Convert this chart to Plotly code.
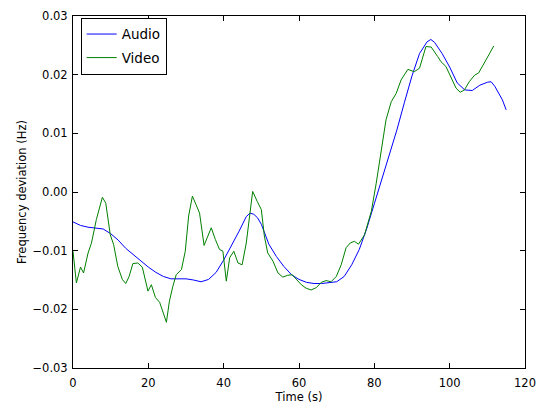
import plotly.graph_objects as go

# Audio frequency deviation (smooth track)
audio_t = [0, 2, 4, 6, 8, 10, 12, 14, 16, 18, 20, 22, 24, 26, 28, 30, 32, 34, 36, 38,
           40, 42, 44, 46, 47, 48, 49, 50, 52, 54, 56, 58, 60, 62, 64, 66, 68, 70, 72,
           74, 76, 78, 80, 82, 84, 86, 88, 90, 92, 94, 95, 96, 98, 100, 102, 104, 106,
           108, 110, 111, 112, 114, 115]
audio_f = [-0.0051, -0.0057, -0.0060, -0.0061, -0.0063, -0.0071, -0.0082, -0.0096,
           -0.0107, -0.0117, -0.0128, -0.0137, -0.0144, -0.0148, -0.0148, -0.0148,
           -0.0150, -0.0153, -0.0149, -0.0137, -0.0116, -0.0093, -0.0068, -0.0042,
           -0.0036, -0.0038, -0.0044, -0.0055, -0.0089, -0.0110, -0.0127, -0.0141,
           -0.0149, -0.0154, -0.0156, -0.0156, -0.0155, -0.0153, -0.0144, -0.0124,
           -0.0098, -0.0062, -0.0020, 0.0022, 0.0062, 0.0106, 0.0153, 0.0198, 0.0236,
           0.0256, 0.0260, 0.0255, 0.0236, 0.0213, 0.0186, 0.0174, 0.0173, 0.0182,
           0.0187, 0.0188, 0.0180, 0.0157, 0.0140]

# Video frequency deviation (noisier track)
video_t = [0.0, 0.9, 2.0, 2.8, 4.0, 4.9, 6.2, 7.8, 8.7, 9.9, 10.8, 11.9, 13.1, 14.0,
           14.9, 15.9, 17.2, 18.4, 19.9, 20.8, 21.9, 23.0, 24.8, 25.6, 26.5, 27.4,
           28.8, 29.8, 30.7, 31.7, 32.7, 33.6, 34.8, 35.8, 36.7, 37.8, 38.9, 39.8,
           40.7, 41.6, 42.7, 43.8, 44.9, 46.0, 46.9, 47.7, 48.9, 50.0, 50.8, 51.7,
           53.1, 54.4, 55.7, 57.0, 58.2, 59.3, 60.6, 61.9, 63.2, 64.6, 65.9, 67.2,
           68.5, 69.9, 71.2, 72.5, 73.6, 74.7, 75.8, 77.4, 79.2, 80.5, 81.8, 83.1,
           84.5, 85.8, 87.1, 88.9, 90.6, 92.0, 93.7, 95.1, 96.8, 97.7, 99.0, 100.4,
           101.7, 102.8, 103.9, 105.2, 106.6, 107.7, 109.2, 110.5, 111.7]
video_f = [-0.0101, -0.0155, -0.0128, -0.0138, -0.0104, -0.0087, -0.0047, -0.0009,
           -0.0019, -0.0073, -0.0090, -0.0127, -0.0149, -0.0156, -0.0144, -0.0122,
           -0.0121, -0.0128, -0.0169, -0.0158, -0.0180, -0.0188, -0.0222, -0.0186,
           -0.0161, -0.0141, -0.0132, -0.0101, -0.0041, -0.0007, -0.0022, -0.0036,
           -0.0091, -0.0075, -0.0061, -0.0081, -0.0098, -0.0101, -0.0152, -0.0112,
           -0.0101, -0.0121, -0.0124, -0.0087, -0.0036, 0.0001, -0.0016, -0.0030,
           -0.0075, -0.0104, -0.0118, -0.0138, -0.0145, -0.0142, -0.0141, -0.0148,
           -0.0158, -0.0164, -0.0167, -0.0163, -0.0154, -0.0151, -0.0153, -0.0144,
           -0.0124, -0.0095, -0.0087, -0.0084, -0.0089, -0.0073, -0.0033, 0.0015,
           0.0066, 0.0123, 0.0154, 0.0168, 0.0191, 0.0209, 0.0205, 0.0211, 0.0248,
           0.0247, 0.0231, 0.0222, 0.0214, 0.0194, 0.0177, 0.0170, 0.0174, 0.0188,
           0.0199, 0.0203, 0.0219, 0.0235, 0.0249]

x_ticks = [0, 20, 40, 60, 80, 100, 120]
y_ticks = [-0.03, -0.02, -0.01, 0.0, 0.01, 0.02, 0.03]
y_tick_text = ["\u22120.03", "\u22120.02", "\u22120.01", "0.00", "0.01", "0.02", "0.03"]

font_family = "DejaVu Sans"

fig = go.Figure()
fig.add_trace(go.Scatter(x=audio_t, y=audio_f, mode="lines", name="Audio",
                         legendgroup="audio",
                         line=dict(color="#0000ff", width=1)))
fig.add_trace(go.Scatter(x=video_t, y=video_f, mode="lines", name="Video",
                         legendgroup="video",
                         line=dict(color="#008000", width=1)))

axis_common = dict(
    showgrid=False, zeroline=False, showline=True, linecolor="black", linewidth=1,
    mirror="ticks", ticks="inside", ticklen=5, tickcolor="black", tickwidth=1,
    tickfont=dict(family=font_family, size=11.5, color="black"),
    automargin=False,
)

fig.update_layout(
    width=542, height=404,
    margin=dict(l=73, r=17, t=16, b=36),
    paper_bgcolor="white", plot_bgcolor="white",
    font=dict(family=font_family, color="black"),
    xaxis=dict(range=[0, 120], tickvals=x_ticks, ticktext=[str(v) for v in x_ticks],
               ticklabelstandoff=4,
               title=dict(text="Time (s)", font=dict(size=11.5), standoff=6),
               **axis_common),
    yaxis=dict(range=[-0.03, 0.03], tickvals=y_ticks, ticktext=y_tick_text,
               ticklabelstandoff=2,
               title=dict(text="Frequency deviation (Hz)", font=dict(size=11.5), standoff=3),
               **axis_common),
    legend=dict(x=0.017, y=0.995, xanchor="left", yanchor="top",
                bgcolor="white", bordercolor="black", borderwidth=1,
                font=dict(family=font_family, size=13.5, color="black"),
                tracegroupgap=3, itemwidth=30),
    showlegend=True,
)

fig.write_html("out.html")
